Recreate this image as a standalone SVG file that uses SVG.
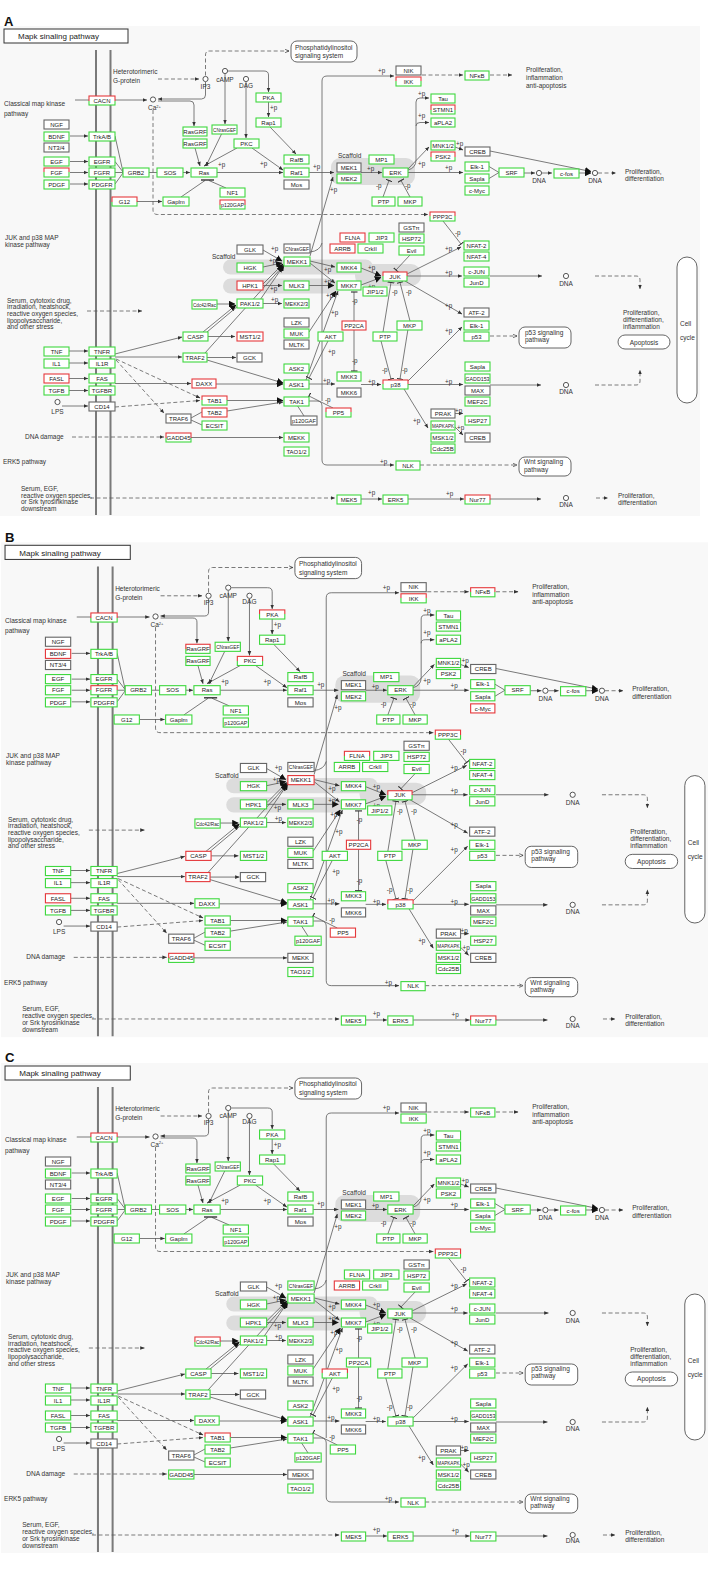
<svg xmlns="http://www.w3.org/2000/svg" width="721" height="1571" viewBox="0 0 721 1571">
<style>
.b{fill:#fff;stroke-width:1.1}
.n{font-family:"Liberation Sans",Arial,sans-serif;font-size:6px;fill:#1a1a1a;stroke:none;text-anchor:middle}
.t{font-family:"Liberation Sans",Arial,sans-serif;font-size:6.5px;fill:#333;stroke:none}
.m{text-anchor:middle}
.p{font-family:"Liberation Sans",Arial,sans-serif;font-size:6.3px;fill:#333;stroke:none}
.g{stroke:#3fd83f}
.r{stroke:#e5393c}
.rg{stroke:url(#rg)}
.k{stroke:#666}
.d{stroke-dasharray:4 2.5}
.ci{fill:#fff;stroke:#444;stroke-width:0.9}
.rb{fill:#fff;stroke:#555;stroke-width:0.9}
.sc{fill:#dcdcdc;stroke:none}
.L{font-family:"Liberation Sans",Arial,sans-serif;font-size:13px;font-weight:bold;fill:#111}
</style>
<defs>
<linearGradient id="rg" x1="0" y1="0" x2="0" y2="1"><stop offset="0.5" stop-color="#e5393c"/><stop offset="0.5" stop-color="#3fd83f"/></linearGradient>
<marker id="ah" viewBox="0 0 8 8" refX="7.5" refY="4" markerWidth="4.5" markerHeight="4.5" markerUnits="userSpaceOnUse" orient="auto"><path d="M0,0.8L8,4L0,7.2z" fill="#333"/></marker>
<marker id="bh" viewBox="0 0 8 8" refX="7.5" refY="4" markerWidth="6.5" markerHeight="6.5" markerUnits="userSpaceOnUse" orient="auto"><path d="M0,0L8,4L0,8z" fill="#111"/></marker>
<marker id="oh" viewBox="0 0 8 8" refX="7.5" refY="4" markerWidth="4.5" markerHeight="4.5" markerUnits="userSpaceOnUse" orient="auto"><path d="M0.5,1L7.5,4L0.5,7" fill="none" stroke="#333" stroke-width="1.2"/></marker>
<marker id="tb" viewBox="0 0 2 10" refX="1" refY="5" markerWidth="1.6" markerHeight="7" markerUnits="userSpaceOnUse" orient="auto"><path d="M1,0V10" stroke="#333" stroke-width="1.6"/></marker>

<g id="base">
<rect x="0" y="26" width="700" height="490" fill="#f8f8f8"/>
<rect x="4" y="29" width="124" height="14" fill="#fff" stroke="#333" stroke-width="1"/>
<text x="18" y="39.2" style="font-family:'Liberation Sans',Arial,sans-serif;font-size:8px;fill:#222">Mapk sinaling pathway</text>
<path d="M96,50V515M110.5,50V515" stroke="#7a7a7a" stroke-width="2" fill="none"/>
<rect class="sc" x="331" y="158" width="84" height="27" rx="9"/>
<rect class="sc" x="223" y="259.5" width="150" height="15" rx="7.5"/>
<rect class="sc" x="355" y="264" width="66" height="22" rx="10"/>
<rect class="sc" x="223" y="278.5" width="115" height="15" rx="7.5"/>
<rect class="rb" x="291" y="41" width="66" height="21" rx="6"/>
<rect class="rb" x="519" y="327" width="52" height="21" rx="6"/>
<rect class="rb" x="519" y="457" width="52" height="19" rx="6"/>
<rect class="rb" x="618" y="335" width="52" height="14" rx="7"/>
<rect class="rb" x="677" y="257" width="20" height="146" rx="10"/>
<g id="connectors" fill="none" stroke="#5a5a5a" stroke-width="0.8">
<path class="d" d="M158,79H199" marker-end="url(#ah)"/>
<path class="d" d="M205.5,75.5V55Q205.5,51 209.5,51H289" marker-end="url(#oh)"/>
<path class="d" d="M153,110V210Q153,214.5 157.5,214.5H428" marker-end="url(#ah)"/>
<path class="d" d="M422,75H463" marker-end="url(#ah)"/>
<path class="d" d="M490,75H512" marker-end="url(#ah)"/>
<path class="d" d="M598,173H616" marker-end="url(#ah)"/>
<path class="d" d="M87,311H142" marker-end="url(#ah)"/>
<path class="d" d="M490,336H517" marker-end="url(#oh)"/>
<path class="d" d="M595,276H636Q640,276 640,280V289" marker-end="url(#ah)"/>
<path class="d" d="M595,385H636Q640,385 640,381V370" marker-end="url(#ah)"/>
<path class="d" d="M116,360L164,413" marker-end="url(#ah)"/>
<path class="d" d="M116,359L200,398" marker-end="url(#ah)"/>
<path class="d" d="M115,407L200,400.5" marker-end="url(#ah)"/>
<path class="d" d="M72,437H164" marker-end="url(#ah)"/>
<path class="d" d="M420,465H517" marker-end="url(#oh)"/>
<path class="d" d="M90,498H335" marker-end="url(#ah)"/>
<path class="d" d="M596,498H608" marker-end="url(#ah)"/>
<path d="M75,100H147" marker-end="url(#ah)"/>
<path d="M205.5,82V95Q205.5,99 201.5,99H158" marker-end="url(#ah)"/>
<path d="M158,101H190Q194,101 194,105V126" marker-end="url(#ah)"/>
<path d="M225,74V124" marker-end="url(#ah)"/>
<path d="M228,71H264Q268.5,71 268.5,75V92" marker-end="url(#ah)"/>
<path d="M246,82V138" marker-end="url(#ah)"/>
<path d="M268.5,101V117" marker-end="url(#ah)"/>
<path d="M270,127L296,154" marker-end="url(#ah)"/>
<path d="M237,148L204,166" marker-end="url(#ah)"/>
<path d="M252,148L283,170" marker-end="url(#ah)"/>
<path d="M195,148L200,166" marker-end="url(#ah)"/>
<path d="M222,133L206,166" marker-end="url(#ah)"/>
<path d="M217,172.5H283" marker-end="url(#ah)"/>
<path d="M309,172.5H334" marker-end="url(#ah)"/>
<path d="M70,136H88" marker-end="url(#ah)"/>
<path d="M70,161.5H88" marker-end="url(#ah)"/>
<path d="M70,172.5H88" marker-end="url(#ah)"/>
<path d="M70,184H88" marker-end="url(#ah)"/>
<path d="M115,136L123,172M115,161.5L123,172M115,172.5H123M115,184L123,173M149,172.5H157"/>
<path d="M183,172.5H190" marker-end="url(#ah)"/>
<path d="M137,201.5H162" marker-end="url(#ah)"/>
<path d="M181,197L205,180.5M226,188L209,180.5"/>
<path d="M201,180H214" stroke="#333" stroke-width="1.4"/>
<path d="M443,221L461,244" marker-end="url(#tb)"/>
<path d="M407,274L461,247" marker-end="url(#ah)"/>
<path d="M407,276H462" marker-end="url(#ah)"/>
<path d="M490,276H542" marker-end="url(#ah)"/>
<path d="M405,281L462,314" marker-end="url(#ah)"/>
<path d="M408,381L462,327" marker-end="url(#ah)"/>
<path d="M408,384.5H463" marker-end="url(#ah)"/>
<path d="M490,385H541" marker-end="url(#ah)"/>
<path d="M404,389L428,428" marker-end="url(#ah)"/>
<path d="M455,413.5H463" marker-end="url(#ah)"/>
<path d="M455,427L463,435" marker-end="url(#ah)"/>
<path d="M408,170Q416,168 416,160V102Q416,98 420,98H429" marker-end="url(#ah)"/>
<path d="M416,126Q416,122.5 420,122.5H429" marker-end="url(#ah)"/>
<path d="M408,169L429,147" marker-end="url(#ah)"/>
<path d="M408,172.5H463" marker-end="url(#ah)"/>
<path d="M455,147L463,150" marker-end="url(#ah)"/>
<path d="M490,151L591,171.5" marker-end="url(#bh)"/>
<path d="M489,166.5L499,172.5L489,178.5"/>
<path d="M524,173H535" marker-end="url(#ah)"/>
<path d="M542,173H552" marker-end="url(#ah)"/>
<path d="M579,173H591" marker-end="url(#bh)"/>
<path d="M361,172.5H382" marker-end="url(#ah)"/>
<path d="M383,197L389,180.5" marker-end="url(#tb)"/>
<path d="M410,197L401,180.5" marker-end="url(#tb)"/>
<path d="M322,401V81Q322,76 327,76H394" marker-end="url(#ah)"/>
<path d="M309,401H317Q322,401 322,406V460Q322,465 327,465H394" marker-end="url(#ah)"/>
<path d="M310,252Q320,251 322,243"/>
<path d="M310,256L333,177" marker-end="url(#ah)"/>
<path d="M263,250L282,261" marker-end="url(#bh)"/>
<path d="M263,267L282,263" marker-end="url(#bh)"/>
<path d="M263,284L283,264" marker-end="url(#bh)"/>
<path d="M260,300L284,265" marker-end="url(#bh)"/>
<path d="M205,353L283,266" marker-end="url(#bh)"/>
<path d="M217,304H235" marker-end="url(#bh)"/>
<path d="M203,332L236,305" marker-end="url(#bh)"/>
<path d="M207,332L238,306"/>
<path d="M208,336.5H235" marker-end="url(#ah)"/>
<path d="M263,303.5H282" marker-end="url(#ah)"/>
<path d="M263,285.5H282" marker-end="url(#ah)"/>
<path d="M310,261L335,267" marker-end="url(#ah)"/>
<path d="M310,263L335,283" marker-end="url(#ah)"/>
<path d="M309,285.5H334" marker-end="url(#bh)"/>
<path d="M309,332L336,291" marker-end="url(#bh)"/>
<path d="M306,380L338,291" marker-end="url(#ah)"/>
<path d="M361,268L381,276" marker-end="url(#bh)"/>
<path d="M361,285L381,277.5" marker-end="url(#bh)"/>
<path d="M410,255L396,270" marker-end="url(#tb)"/>
<path d="M354,321V292" marker-end="url(#tb)"/>
<path d="M354,329V371" marker-end="url(#tb)"/>
<path d="M383,332L391,282.5" marker-end="url(#tb)"/>
<path d="M410,321L400,282.5" marker-end="url(#tb)"/>
<path d="M381,341L391,379" marker-end="url(#tb)"/>
<path d="M408,329L400,379" marker-end="url(#tb)"/>
<path d="M328,341L309,378" marker-end="url(#tb)"/>
<path d="M309,384H335" marker-end="url(#ah)"/>
<path d="M361,384.5H381" marker-end="url(#ah)"/>
<path d="M333,408L309,396" marker-end="url(#tb)"/>
<path d="M297,405L304,416"/>
<path d="M69,351H88" marker-end="url(#ah)"/>
<path d="M69,363H88" marker-end="url(#ah)"/>
<path d="M69,378.5H88" marker-end="url(#ah)"/>
<path d="M69,390.5H88" marker-end="url(#ah)"/>
<path d="M62,406H88" marker-end="url(#ah)"/>
<path d="M115,354L182,337" marker-end="url(#ah)"/>
<path d="M115,357H182" marker-end="url(#ah)"/>
<path d="M115,383.5H191" marker-end="url(#ah)"/>
<path d="M207,357.5H236" marker-end="url(#ah)"/>
<path d="M207,360L283,383" marker-end="url(#bh)"/>
<path d="M216,384H283" marker-end="url(#bh)"/>
<path d="M227,400.5H283" marker-end="url(#bh)"/>
<path d="M227,411L283,402" marker-end="url(#ah)"/>
<path d="M191,418L202,412M191,420L202,425"/>
<path d="M191,437.5H283" marker-end="url(#ah)"/>
<path d="M361,499H382" marker-end="url(#ah)"/>
<path d="M408,499H464" marker-end="url(#ah)"/>
<path d="M490,499H541" marker-end="url(#ah)"/>
</g>
<g id="circles">
<circle class="ci" cx="205.5" cy="79" r="2.6"/><circle class="ci" cx="225" cy="71" r="2.6"/><circle class="ci" cx="246" cy="79" r="2.6"/><circle class="ci" cx="153" cy="99.5" r="2.6"/><circle class="ci" cx="57.5" cy="402" r="2.6"/><circle class="ci" cx="539" cy="173" r="2.6"/><circle class="ci" cx="595" cy="173" r="2.6"/><circle class="ci" cx="566" cy="276" r="2.6"/><circle class="ci" cx="566" cy="385" r="2.6"/><circle class="ci" cx="566" cy="498" r="2.6"/>
</g>
<g id="labels">
<text class="t" x="113" y="74">Heterotorimeric</text><text class="t" x="113" y="83">G-protein</text>
<text class="t" x="4" y="105.5">Classical map kinase</text><text class="t" x="4" y="116">pathway</text>
<text class="t m" x="205.5" y="88.5">IP3</text><text class="t m" x="225" y="81.5">cAMP</text><text class="t m" x="246" y="87.5">DAG</text>
<text class="t" x="148" y="110">Ca<tspan font-size="4" dy="-2.5">2+</tspan></text>
<text class="t" x="295" y="49.5">Phosphatidylinositol</text><text class="t" x="295" y="58">signaling system</text>
<text class="t" x="526" y="72">Proliferation,</text><text class="t" x="526" y="80">inflammation</text><text class="t" x="526" y="87.5">anti-apoptosis</text>
<text class="t" x="338" y="158">Scaffold</text>
<text class="t m" x="539" y="183">DNA</text><text class="t m" x="595" y="183">DNA</text>
<text class="t" x="625" y="173.5">Proliferation,</text><text class="t" x="625" y="181">differentiation</text>
<text class="t" x="5" y="240">JUK and p38 MAP</text><text class="t" x="5" y="247">kinase pathway</text>
<text class="t" x="212" y="259">Scaffold</text>
<text class="t" x="7" y="302.5">Serum, cytotoxic drug,</text><text class="t" x="7" y="309">irradiation, heatshock,</text><text class="t" x="7" y="315.5">reactive oxygen species,</text><text class="t" x="7" y="322.5">lipopolysaccharide,</text><text class="t" x="7" y="329">and other stress</text>
<text class="t m" x="566" y="286">DNA</text>
<text class="t" x="623" y="315">Proliferation,</text><text class="t" x="623" y="322">differentiation,</text><text class="t" x="623" y="329">inflammation</text>
<text class="t m" x="644" y="344.5">Apoptosis</text>
<text class="t" x="680" y="326">Cell</text><text class="t" x="680" y="340">cycle</text>
<text class="t" x="525" y="334.5">p53 signaling</text><text class="t" x="525" y="341.5">pathway</text>
<text class="t m" x="57.5" y="414">LPS</text>
<text class="t" x="25" y="439">DNA damage</text>
<text class="t m" x="566" y="394">DNA</text>
<text class="t" x="3" y="464">ERK5 pathway</text>
<text class="t" x="524" y="464">Wnt signaling</text><text class="t" x="524" y="471.5">pathway</text>
<text class="t" x="21" y="490.5">Serum, EGF,</text><text class="t" x="21" y="497.5">reactive oxygen species,</text><text class="t" x="21" y="504">or Srk tyrosinkinase</text><text class="t" x="21" y="511">downstream</text>
<text class="t m" x="566" y="506.5">DNA</text>
<text class="t" x="618" y="498">Proliferation,</text><text class="t" x="618" y="505">differentiation</text>
</g>
<g id="plabels">
<text class="p" x="270" y="110">+p</text><text class="p" x="218" y="166.5">+p</text><text class="p" x="260" y="166">+p</text><text class="p" x="313" y="169">+p</text><text class="p" x="330" y="192">+p</text><text class="p" x="367" y="171">+p</text>
<text class="p" x="418" y="96">+p</text><text class="p" x="418" y="118">+p</text><text class="p" x="418" y="165.5">+p</text><text class="p" x="445" y="170">+p</text><text class="p" x="456" y="146">+p</text><text class="p" x="378" y="73">+p</text>
<text class="p" x="376" y="188">-p</text><text class="p" x="405" y="188">-p</text><text class="p" x="455" y="234.5">-p</text>
<text class="p" x="445" y="251">+p</text><text class="p" x="445" y="274.5">+p</text><text class="p" x="445" y="308">+p</text><text class="p" x="445" y="333">+p</text>
<text class="p" x="271" y="251">+p</text><text class="p" x="269" y="263">+p</text><text class="p" x="270" y="291">+p</text><text class="p" x="271" y="302">+p</text>
<text class="p" x="324" y="272">+p</text><text class="p" x="324" y="284">+p</text><text class="p" x="326" y="298">+p</text><text class="p" x="331" y="315">+p</text>
<text class="p" x="368" y="270">+p</text><text class="p" x="368" y="289">+p</text><text class="p" x="352" y="303">-p</text><text class="p" x="392" y="294">-p</text><text class="p" x="406" y="294">-p</text>
<text class="p" x="328" y="354">+p</text><text class="p" x="323" y="383">+p</text><text class="p" x="352" y="363">-p</text><text class="p" x="325" y="402">-p</text><text class="p" x="368" y="384">+p</text>
<text class="p" x="382" y="372">-p</text><text class="p" x="402" y="372">-p</text><text class="p" x="445" y="384">+p</text><text class="p" x="413" y="423">+p</text><text class="p" x="455" y="413">+p</text><text class="p" x="457" y="430">+p</text>
<text class="p" x="380" y="464">+p</text><text class="p" x="368" y="495">+p</text><text class="p" x="446" y="496">+p</text>
</g>
</g>

<g id="n_ngf"><rect class="b" x="44" y="120" width="25" height="9"/><text class="n" x="56.5" y="126.7">NGF</text></g>
<g id="n_bdnf"><rect class="b" x="44" y="132" width="25" height="9"/><text class="n" x="56.5" y="138.7">BDNF</text></g>
<g id="n_nt34"><rect class="b" x="44" y="143" width="25" height="9"/><text class="n" x="56.5" y="149.7">NT3/4</text></g>
<g id="n_egf"><rect class="b" x="44" y="157" width="25" height="9"/><text class="n" x="56.5" y="163.7">EGF</text></g>
<g id="n_fgf"><rect class="b" x="44" y="168" width="25" height="9"/><text class="n" x="56.5" y="174.7">FGF</text></g>
<g id="n_pdgf"><rect class="b" x="44" y="180" width="25" height="9"/><text class="n" x="56.5" y="186.7">PDGF</text></g>
<g id="n_trkab"><rect class="b" x="89" y="132" width="26" height="9"/><text class="n" x="102" y="138.7">TrkA/B</text></g>
<g id="n_egfr"><rect class="b" x="89" y="157" width="26" height="9"/><text class="n" x="102" y="163.7">EGFR</text></g>
<g id="n_fgfr"><rect class="b" x="89" y="168" width="26" height="9"/><text class="n" x="102" y="174.7">FGFR</text></g>
<g id="n_pdgfr"><rect class="b" x="89" y="180" width="26" height="9"/><text class="n" x="102" y="186.7">PDGFR</text></g>
<g id="n_cacn"><rect class="b" x="89" y="96" width="26" height="9"/><text class="n" x="102" y="102.7">CACN</text></g>
<g id="n_grb2"><rect class="b" x="123" y="168" width="26" height="9"/><text class="n" x="136" y="174.7">GRB2</text></g>
<g id="n_sos"><rect class="b" x="157" y="168" width="26" height="9"/><text class="n" x="170" y="174.7">SOS</text></g>
<g id="n_ras"><rect class="b" x="191" y="168" width="26" height="9"/><text class="n" x="204" y="174.7">Ras</text></g>
<g id="n_g12"><rect class="b" x="112" y="197" width="25" height="9"/><text class="n" x="124.5" y="203.7">G12</text></g>
<g id="n_gaplm"><rect class="b" x="163" y="197" width="26" height="9"/><text class="n" x="176" y="203.7">Gaplm</text></g>
<g id="n_nf1"><rect class="b" x="220" y="188" width="25" height="9"/><text class="n" x="232.5" y="194.7">NF1</text></g>
<g id="n_p120gap"><rect class="b" x="220" y="200" width="25" height="9"/><text class="n" x="232.5" y="206.7" textLength="23" lengthAdjust="spacingAndGlyphs">p120GAP</text></g>
<g id="n_rasgrf1"><rect class="b" x="183" y="127" width="24" height="9"/><text class="n" x="195" y="133.7">RasGRF</text></g>
<g id="n_rasgrf2"><rect class="b" x="183" y="139" width="24" height="9"/><text class="n" x="195" y="145.7">RasGRF</text></g>
<g id="n_cnras1"><rect class="b" x="212" y="125" width="25" height="9"/><text class="n" x="224.5" y="131.7" textLength="23" lengthAdjust="spacingAndGlyphs">CNrasGEF</text></g>
<g id="n_pkc"><rect class="b" x="234" y="139" width="25" height="9"/><text class="n" x="246.5" y="145.7">PKC</text></g>
<g id="n_pka"><rect class="b" x="256" y="93" width="25" height="9"/><text class="n" x="268.5" y="99.7">PKA</text></g>
<g id="n_rap1"><rect class="b" x="256" y="118" width="25" height="9"/><text class="n" x="268.5" y="124.7">Rap1</text></g>
<g id="n_rafb"><rect class="b" x="284" y="155" width="25" height="9"/><text class="n" x="296.5" y="161.7">RafB</text></g>
<g id="n_raf1"><rect class="b" x="284" y="168" width="25" height="9"/><text class="n" x="296.5" y="174.7">Raf1</text></g>
<g id="n_mos"><rect class="b" x="284" y="180" width="25" height="9"/><text class="n" x="296.5" y="186.7">Mos</text></g>
<g id="n_mek1"><rect class="b" x="337" y="163" width="24" height="9"/><text class="n" x="349" y="169.7">MEK1</text></g>
<g id="n_mek2"><rect class="b" x="337" y="174" width="24" height="9"/><text class="n" x="349" y="180.7">MEK2</text></g>
<g id="n_mp1"><rect class="b" x="369" y="155" width="25" height="9"/><text class="n" x="381.5" y="161.7">MP1</text></g>
<g id="n_erk"><rect class="b" x="383" y="168" width="25" height="9"/><text class="n" x="395.5" y="174.7">ERK</text></g>
<g id="n_ptp1"><rect class="b" x="372" y="197" width="23" height="9"/><text class="n" x="383.5" y="203.7">PTP</text></g>
<g id="n_mkp1"><rect class="b" x="398" y="197" width="24" height="9"/><text class="n" x="410" y="203.7">MKP</text></g>
<g id="n_nik"><rect class="b" x="396" y="66" width="25" height="9"/><text class="n" x="408.5" y="72.7">NIK</text></g>
<g id="n_ikk"><rect class="b" x="396" y="77" width="25" height="9"/><text class="n" x="408.5" y="83.7">IKK</text></g>
<g id="n_nfkb"><rect class="b" x="465" y="71" width="24" height="9"/><text class="n" x="477" y="77.7">NFκB</text></g>
<g id="n_tau"><rect class="b" x="431" y="94" width="24" height="9"/><text class="n" x="443" y="100.7">Tau</text></g>
<g id="n_stmn1"><rect class="b" x="431" y="105" width="24" height="9"/><text class="n" x="443" y="111.7">STMN1</text></g>
<g id="n_apla2"><rect class="b" x="431" y="118" width="24" height="9"/><text class="n" x="443" y="124.7">aPLA2</text></g>
<g id="n_mnk"><rect class="b" x="431" y="141" width="24" height="9"/><text class="n" x="443" y="147.7">MNK1/2</text></g>
<g id="n_psk2"><rect class="b" x="431" y="152" width="24" height="9"/><text class="n" x="443" y="158.7">PSK2</text></g>
<g id="n_creb1"><rect class="b" x="465" y="147" width="25" height="9"/><text class="n" x="477.5" y="153.7">CREB</text></g>
<g id="n_elk1"><rect class="b" x="465" y="162" width="24" height="9"/><text class="n" x="477" y="168.7">Elk-1</text></g>
<g id="n_sapla1"><rect class="b" x="465" y="174" width="24" height="9"/><text class="n" x="477" y="180.7">Sapla</text></g>
<g id="n_cmyc"><rect class="b" x="465" y="186" width="24" height="9"/><text class="n" x="477" y="192.7">c-Myc</text></g>
<g id="n_srf"><rect class="b" x="499" y="168" width="25" height="9"/><text class="n" x="511.5" y="174.7">SRF</text></g>
<g id="n_cfos"><rect class="b" x="554" y="169" width="25" height="9"/><text class="n" x="566.5" y="175.7">c-fos</text></g>
<g id="n_ppp3c"><rect class="b" x="430" y="212" width="25" height="9"/><text class="n" x="442.5" y="218.7">PPP3C</text></g>
<g id="n_nfat2"><rect class="b" x="464" y="241" width="25" height="9"/><text class="n" x="476.5" y="247.7">NFAT-2</text></g>
<g id="n_nfat4"><rect class="b" x="464" y="252" width="25" height="9"/><text class="n" x="476.5" y="258.7">NFAT-4</text></g>
<g id="n_cjun"><rect class="b" x="464" y="267" width="25" height="9"/><text class="n" x="476.5" y="273.7">c-JUN</text></g>
<g id="n_jund"><rect class="b" x="464" y="278" width="25" height="9"/><text class="n" x="476.5" y="284.7">JunD</text></g>
<g id="n_gst"><rect class="b" x="399" y="223" width="25" height="9"/><text class="n" x="411.5" y="229.7">GSTπ</text></g>
<g id="n_hsp72"><rect class="b" x="399" y="234" width="25" height="9"/><text class="n" x="411.5" y="240.7">HSP72</text></g>
<g id="n_evil"><rect class="b" x="399" y="246" width="25" height="9"/><text class="n" x="411.5" y="252.7">Evil</text></g>
<g id="n_flna"><rect class="b" x="340" y="233" width="25" height="9"/><text class="n" x="352.5" y="239.7">FLNA</text></g>
<g id="n_jip3"><rect class="b" x="369" y="233" width="25" height="9"/><text class="n" x="381.5" y="239.7">JIP3</text></g>
<g id="n_arrb"><rect class="b" x="330" y="244" width="25" height="9"/><text class="n" x="342.5" y="250.7">ARRB</text></g>
<g id="n_crk"><rect class="b" x="358" y="244" width="25" height="9"/><text class="n" x="370.5" y="250.7">CrkII</text></g>
<g id="n_glk"><rect class="b" x="237" y="245" width="26" height="9"/><text class="n" x="250" y="251.7">GLK</text></g>
<g id="n_cnras2"><rect class="b" x="284" y="244" width="26" height="9"/><text class="n" x="297" y="250.7" textLength="24" lengthAdjust="spacingAndGlyphs">CNrasGEF</text></g>
<g id="n_hgk"><rect class="b" x="237" y="263" width="26" height="9"/><text class="n" x="250" y="269.7">HGK</text></g>
<g id="n_mekk1"><rect class="b" x="284" y="257" width="26" height="9"/><text class="n" x="297" y="263.7">MEKK1</text></g>
<g id="n_hpk1"><rect class="b" x="237" y="281" width="26" height="9"/><text class="n" x="250" y="287.7">HPK1</text></g>
<g id="n_mlk3"><rect class="b" x="284" y="281" width="25" height="9"/><text class="n" x="296.5" y="287.7">MLK3</text></g>
<g id="n_cdc42"><rect class="b" x="192" y="300" width="25" height="9"/><text class="n" x="204.5" y="306.7" textLength="23" lengthAdjust="spacingAndGlyphs">Cdc42/Rac</text></g>
<g id="n_pak"><rect class="b" x="237" y="299" width="26" height="9"/><text class="n" x="250" y="305.7">PAK1/2</text></g>
<g id="n_mekk23"><rect class="b" x="284" y="299" width="25" height="9"/><text class="n" x="296.5" y="305.7" textLength="23" lengthAdjust="spacingAndGlyphs">MEKK2/3</text></g>
<g id="n_casp"><rect class="b" x="183" y="332" width="25" height="9"/><text class="n" x="195.5" y="338.7">CASP</text></g>
<g id="n_mst"><rect class="b" x="237" y="332" width="26" height="9"/><text class="n" x="250" y="338.7">MST1/2</text></g>
<g id="n_gck"><rect class="b" x="237" y="353" width="25" height="9"/><text class="n" x="249.5" y="359.7">GCK</text></g>
<g id="n_lzk"><rect class="b" x="284" y="318" width="25" height="9"/><text class="n" x="296.5" y="324.7">LZK</text></g>
<g id="n_muk"><rect class="b" x="284" y="329" width="25" height="9"/><text class="n" x="296.5" y="335.7">MUK</text></g>
<g id="n_mltk"><rect class="b" x="284" y="340" width="25" height="9"/><text class="n" x="296.5" y="346.7">MLTK</text></g>
<g id="n_mkk4"><rect class="b" x="337" y="263" width="24" height="9"/><text class="n" x="349" y="269.7">MKK4</text></g>
<g id="n_mkk7"><rect class="b" x="337" y="281" width="24" height="9"/><text class="n" x="349" y="287.7">MKK7</text></g>
<g id="n_jip12"><rect class="b" x="363" y="287" width="24" height="9"/><text class="n" x="375" y="293.7">JIP1/2</text></g>
<g id="n_juk"><rect class="b" x="383" y="272" width="24" height="9"/><text class="n" x="395" y="278.7">JUK</text></g>
<g id="n_pp2ca"><rect class="b" x="342" y="321" width="24" height="9"/><text class="n" x="354" y="327.7">PP2CA</text></g>
<g id="n_akt"><rect class="b" x="318" y="332" width="25" height="9"/><text class="n" x="330.5" y="338.7">AKT</text></g>
<g id="n_ptp2"><rect class="b" x="373" y="332" width="24" height="9"/><text class="n" x="385" y="338.7">PTP</text></g>
<g id="n_mkp2"><rect class="b" x="397" y="321" width="25" height="9"/><text class="n" x="409.5" y="327.7">MKP</text></g>
<g id="n_atf2"><rect class="b" x="464" y="308" width="25" height="9"/><text class="n" x="476.5" y="314.7">ATF-2</text></g>
<g id="n_elk1b"><rect class="b" x="464" y="321" width="25" height="9"/><text class="n" x="476.5" y="327.7">Elk-1</text></g>
<g id="n_p53"><rect class="b" x="464" y="332" width="25" height="9"/><text class="n" x="476.5" y="338.7">p53</text></g>
<g id="n_tnf"><rect class="b" x="44" y="347" width="25" height="9"/><text class="n" x="56.5" y="353.7">TNF</text></g>
<g id="n_tnfr"><rect class="b" x="89" y="347" width="26" height="9"/><text class="n" x="102" y="353.7">TNFR</text></g>
<g id="n_il1"><rect class="b" x="44" y="359" width="25" height="9"/><text class="n" x="56.5" y="365.7">IL1</text></g>
<g id="n_il1r"><rect class="b" x="89" y="359" width="26" height="9"/><text class="n" x="102" y="365.7">IL1R</text></g>
<g id="n_fasl"><rect class="b" x="44" y="374" width="25" height="9"/><text class="n" x="56.5" y="380.7">FASL</text></g>
<g id="n_fas"><rect class="b" x="89" y="374" width="26" height="9"/><text class="n" x="102" y="380.7">FAS</text></g>
<g id="n_tgfb"><rect class="b" x="44" y="386" width="25" height="9"/><text class="n" x="56.5" y="392.7">TGFB</text></g>
<g id="n_tgfbr"><rect class="b" x="89" y="386" width="26" height="9"/><text class="n" x="102" y="392.7">TGFBR</text></g>
<g id="n_cd14"><rect class="b" x="89" y="402" width="26" height="9"/><text class="n" x="102" y="408.7">CD14</text></g>
<g id="n_traf2"><rect class="b" x="183" y="353" width="24" height="9"/><text class="n" x="195" y="359.7">TRAF2</text></g>
<g id="n_daxx"><rect class="b" x="192" y="379" width="24" height="9"/><text class="n" x="204" y="385.7">DAXX</text></g>
<g id="n_tab1"><rect class="b" x="202" y="396" width="25" height="9"/><text class="n" x="214.5" y="402.7">TAB1</text></g>
<g id="n_tab2"><rect class="b" x="202" y="408" width="25" height="9"/><text class="n" x="214.5" y="414.7">TAB2</text></g>
<g id="n_ecsit"><rect class="b" x="202" y="421" width="25" height="9"/><text class="n" x="214.5" y="427.7">ECSIT</text></g>
<g id="n_traf6"><rect class="b" x="166" y="414" width="25" height="9"/><text class="n" x="178.5" y="420.7">TRAF6</text></g>
<g id="n_gadd45"><rect class="b" x="166" y="433" width="25" height="9"/><text class="n" x="178.5" y="439.7">GADD45</text></g>
<g id="n_ask2"><rect class="b" x="284" y="364" width="25" height="9"/><text class="n" x="296.5" y="370.7">ASK2</text></g>
<g id="n_ask1"><rect class="b" x="284" y="380" width="25" height="9"/><text class="n" x="296.5" y="386.7">ASK1</text></g>
<g id="n_tak1"><rect class="b" x="284" y="397" width="25" height="9"/><text class="n" x="296.5" y="403.7">TAK1</text></g>
<g id="n_p120gaf"><rect class="b" x="291" y="416" width="26" height="9"/><text class="n" x="304" y="422.7" textLength="24" lengthAdjust="spacingAndGlyphs">p120GAF</text></g>
<g id="n_mkk3"><rect class="b" x="337" y="372" width="24" height="9"/><text class="n" x="349" y="378.7">MKK3</text></g>
<g id="n_mkk6"><rect class="b" x="337" y="388" width="24" height="9"/><text class="n" x="349" y="394.7">MKK6</text></g>
<g id="n_p38"><rect class="b" x="383" y="380" width="25" height="9"/><text class="n" x="395.5" y="386.7">p38</text></g>
<g id="n_pp5"><rect class="b" x="326" y="408" width="25" height="9"/><text class="n" x="338.5" y="414.7">PP5</text></g>
<g id="n_sapla2"><rect class="b" x="465" y="362" width="25" height="9"/><text class="n" x="477.5" y="368.7">Sapla</text></g>
<g id="n_gadd153"><rect class="b" x="465" y="374" width="25" height="9"/><text class="n" x="477.5" y="380.7" textLength="24" lengthAdjust="spacingAndGlyphs">GADD153</text></g>
<g id="n_max"><rect class="b" x="465" y="386" width="25" height="9"/><text class="n" x="477.5" y="392.7">MAX</text></g>
<g id="n_mef2c"><rect class="b" x="465" y="397" width="25" height="9"/><text class="n" x="477.5" y="403.7">MEF2C</text></g>
<g id="n_prak"><rect class="b" x="431" y="409" width="24" height="9"/><text class="n" x="443" y="415.7">PRAK</text></g>
<g id="n_mapkap"><rect class="b" x="431" y="421" width="24" height="9"/><text class="n" x="443" y="427.7" textLength="22" lengthAdjust="spacingAndGlyphs">MAPKAPK</text></g>
<g id="n_msk"><rect class="b" x="431" y="433" width="24" height="9"/><text class="n" x="443" y="439.7">MSK1/2</text></g>
<g id="n_cdc25b"><rect class="b" x="431" y="444" width="24" height="9"/><text class="n" x="443" y="450.7">Cdc25B</text></g>
<g id="n_hsp27"><rect class="b" x="465" y="416" width="25" height="9"/><text class="n" x="477.5" y="422.7">HSP27</text></g>
<g id="n_creb2"><rect class="b" x="465" y="433" width="25" height="9"/><text class="n" x="477.5" y="439.7">CREB</text></g>
<g id="n_nlk"><rect class="b" x="396" y="461" width="24" height="9"/><text class="n" x="408" y="467.7">NLK</text></g>
<g id="n_mekk"><rect class="b" x="284" y="433" width="25" height="9"/><text class="n" x="296.5" y="439.7">MEKK</text></g>
<g id="n_tao"><rect class="b" x="284" y="447" width="25" height="9"/><text class="n" x="296.5" y="453.7">TAO1/2</text></g>
<g id="n_mek5"><rect class="b" x="337" y="495" width="24" height="9"/><text class="n" x="349" y="501.7">MEK5</text></g>
<g id="n_erk5"><rect class="b" x="383" y="495" width="25" height="9"/><text class="n" x="395.5" y="501.7">ERK5</text></g>
<g id="n_nur77"><rect class="b" x="465" y="495" width="25" height="9"/><text class="n" x="477.5" y="501.7">Nur77</text></g>
</defs>

<rect width="721" height="1571" fill="#fff"/>

<g id="panelA">
<text class="L" x="4" y="25.5">A</text>
<use href="#base"/>
<g id="A-nodes" class="g">
<g id="A-ngf" class="k"><use href="#n_ngf"/></g><g id="A-bdnf"><use href="#n_bdnf"/></g><g id="A-nt34" class="k"><use href="#n_nt34"/></g><g id="A-egf"><use href="#n_egf"/></g><g id="A-fgf" class="rg"><use href="#n_fgf"/></g><g id="A-pdgf"><use href="#n_pdgf"/></g>
<g id="A-trkab"><use href="#n_trkab"/></g><g id="A-egfr"><use href="#n_egfr"/></g><g id="A-fgfr"><use href="#n_fgfr"/></g><g id="A-pdgfr"><use href="#n_pdgfr"/></g><g id="A-cacn" class="rg"><use href="#n_cacn"/></g>
<g id="A-grb2"><use href="#n_grb2"/></g><g id="A-sos"><use href="#n_sos"/></g><g id="A-ras"><use href="#n_ras"/></g><g id="A-g12" class="rg"><use href="#n_g12"/></g><g id="A-gaplm"><use href="#n_gaplm"/></g><g id="A-nf1"><use href="#n_nf1"/></g><g id="A-p120gap" class="rg"><use href="#n_p120gap"/></g>
<g id="A-rasgrf1"><use href="#n_rasgrf1"/></g><g id="A-rasgrf2"><use href="#n_rasgrf2"/></g><g id="A-cnras1"><use href="#n_cnras1"/></g><g id="A-pkc"><use href="#n_pkc"/></g><g id="A-pka"><use href="#n_pka"/></g><g id="A-rap1"><use href="#n_rap1"/></g>
<g id="A-rafb"><use href="#n_rafb"/></g><g id="A-raf1"><use href="#n_raf1"/></g><g id="A-mos" class="k"><use href="#n_mos"/></g><g id="A-mek1" class="k"><use href="#n_mek1"/></g><g id="A-mek2"><use href="#n_mek2"/></g><g id="A-mp1"><use href="#n_mp1"/></g><g id="A-erk"><use href="#n_erk"/></g><g id="A-ptp1"><use href="#n_ptp1"/></g><g id="A-mkp1"><use href="#n_mkp1"/></g>
<g id="A-nik" class="k"><use href="#n_nik"/></g><g id="A-ikk" class="rg"><use href="#n_ikk"/></g><g id="A-nfkb"><use href="#n_nfkb"/></g><g id="A-tau"><use href="#n_tau"/></g><g id="A-stmn1" class="rg"><use href="#n_stmn1"/></g><g id="A-apla2"><use href="#n_apla2"/></g><g id="A-mnk"><use href="#n_mnk"/></g><g id="A-psk2" class="rg"><use href="#n_psk2"/></g>
<g id="A-creb1" class="k"><use href="#n_creb1"/></g><g id="A-elk1"><use href="#n_elk1"/></g><g id="A-sapla1"><use href="#n_sapla1"/></g><g id="A-cmyc"><use href="#n_cmyc"/></g><g id="A-srf"><use href="#n_srf"/></g><g id="A-cfos"><use href="#n_cfos"/></g><g id="A-ppp3c" class="rg"><use href="#n_ppp3c"/></g>
<g id="A-nfat2"><use href="#n_nfat2"/></g><g id="A-nfat4"><use href="#n_nfat4"/></g><g id="A-cjun"><use href="#n_cjun"/></g><g id="A-jund"><use href="#n_jund"/></g><g id="A-gst" class="k"><use href="#n_gst"/></g><g id="A-hsp72"><use href="#n_hsp72"/></g><g id="A-evil"><use href="#n_evil"/></g>
<g id="A-flna" class="r"><use href="#n_flna"/></g><g id="A-jip3"><use href="#n_jip3"/></g><g id="A-arrb" class="r"><use href="#n_arrb"/></g><g id="A-crk"><use href="#n_crk"/></g><g id="A-glk" class="k"><use href="#n_glk"/></g><g id="A-cnras2" class="k"><use href="#n_cnras2"/></g>
<g id="A-hgk"><use href="#n_hgk"/></g><g id="A-mekk1"><use href="#n_mekk1"/></g><g id="A-hpk1" class="r"><use href="#n_hpk1"/></g><g id="A-mlk3"><use href="#n_mlk3"/></g><g id="A-cdc42"><use href="#n_cdc42"/></g><g id="A-pak"><use href="#n_pak"/></g><g id="A-mekk23"><use href="#n_mekk23"/></g>
<g id="A-casp"><use href="#n_casp"/></g><g id="A-mst" class="r"><use href="#n_mst"/></g><g id="A-gck" class="k"><use href="#n_gck"/></g><g id="A-lzk" class="k"><use href="#n_lzk"/></g><g id="A-muk"><use href="#n_muk"/></g><g id="A-mltk" class="k"><use href="#n_mltk"/></g>
<g id="A-mkk4"><use href="#n_mkk4"/></g><g id="A-mkk7"><use href="#n_mkk7"/></g><g id="A-jip12"><use href="#n_jip12"/></g><g id="A-juk" class="rg"><use href="#n_juk"/></g><g id="A-pp2ca" class="r"><use href="#n_pp2ca"/></g><g id="A-akt"><use href="#n_akt"/></g><g id="A-ptp2"><use href="#n_ptp2"/></g><g id="A-mkp2"><use href="#n_mkp2"/></g>
<g id="A-atf2" class="k"><use href="#n_atf2"/></g><g id="A-elk1b"><use href="#n_elk1b"/></g><g id="A-p53"><use href="#n_p53"/></g>
<g id="A-tnf"><use href="#n_tnf"/></g><g id="A-tnfr"><use href="#n_tnfr"/></g><g id="A-il1"><use href="#n_il1"/></g><g id="A-il1r"><use href="#n_il1r"/></g><g id="A-fasl" class="r"><use href="#n_fasl"/></g><g id="A-fas"><use href="#n_fas"/></g><g id="A-tgfb"><use href="#n_tgfb"/></g><g id="A-tgfbr"><use href="#n_tgfbr"/></g><g id="A-cd14" class="k"><use href="#n_cd14"/></g>
<g id="A-traf2"><use href="#n_traf2"/></g><g id="A-daxx" class="r"><use href="#n_daxx"/></g><g id="A-tab1" class="rg"><use href="#n_tab1"/></g><g id="A-tab2" class="r"><use href="#n_tab2"/></g><g id="A-ecsit"><use href="#n_ecsit"/></g><g id="A-traf6" class="k"><use href="#n_traf6"/></g><g id="A-gadd45" class="rg"><use href="#n_gadd45"/></g>
<g id="A-ask2"><use href="#n_ask2"/></g><g id="A-ask1"><use href="#n_ask1"/></g><g id="A-tak1"><use href="#n_tak1"/></g><g id="A-p120gaf" class="k"><use href="#n_p120gaf"/></g><g id="A-mkk3"><use href="#n_mkk3"/></g><g id="A-mkk6" class="k"><use href="#n_mkk6"/></g><g id="A-p38" class="rg"><use href="#n_p38"/></g><g id="A-pp5" class="rg"><use href="#n_pp5"/></g>
<g id="A-sapla2"><use href="#n_sapla2"/></g><g id="A-gadd153"><use href="#n_gadd153"/></g><g id="A-max" class="k"><use href="#n_max"/></g><g id="A-mef2c"><use href="#n_mef2c"/></g><g id="A-prak" class="k"><use href="#n_prak"/></g><g id="A-mapkap"><use href="#n_mapkap"/></g><g id="A-msk"><use href="#n_msk"/></g><g id="A-cdc25b"><use href="#n_cdc25b"/></g>
<g id="A-hsp27"><use href="#n_hsp27"/></g><g id="A-creb2" class="k"><use href="#n_creb2"/></g><g id="A-nlk"><use href="#n_nlk"/></g><g id="A-mekk"><use href="#n_mekk"/></g><g id="A-tao"><use href="#n_tao"/></g><g id="A-mek5"><use href="#n_mek5"/></g><g id="A-erk5"><use href="#n_erk5"/></g><g id="A-nur77" class="rg"><use href="#n_nur77"/></g>
</g>
</g>

<g id="panelB" transform="matrix(1.01,0,0,1.01,1,516)">
<text class="L" x="4" y="25.5">B</text>
<use href="#base"/>
<g id="B-nodes" class="g">
<g id="B-ngf" class="k"><use href="#n_ngf"/></g><g id="B-bdnf" class="r"><use href="#n_bdnf"/></g><g id="B-nt34" class="k"><use href="#n_nt34"/></g><g id="B-egf"><use href="#n_egf"/></g><g id="B-fgf"><use href="#n_fgf"/></g><g id="B-pdgf"><use href="#n_pdgf"/></g>
<g id="B-trkab"><use href="#n_trkab"/></g><g id="B-egfr"><use href="#n_egfr"/></g><g id="B-fgfr" class="rg"><use href="#n_fgfr"/></g><g id="B-pdgfr"><use href="#n_pdgfr"/></g><g id="B-cacn" class="rg"><use href="#n_cacn"/></g>
<g id="B-grb2"><use href="#n_grb2"/></g><g id="B-sos"><use href="#n_sos"/></g><g id="B-ras"><use href="#n_ras"/></g><g id="B-g12"><use href="#n_g12"/></g><g id="B-gaplm"><use href="#n_gaplm"/></g><g id="B-nf1"><use href="#n_nf1"/></g><g id="B-p120gap"><use href="#n_p120gap"/></g>
<g id="B-rasgrf1" class="rg"><use href="#n_rasgrf1"/></g><g id="B-rasgrf2"><use href="#n_rasgrf2"/></g><g id="B-cnras1"><use href="#n_cnras1"/></g><g id="B-pkc" class="rg"><use href="#n_pkc"/></g><g id="B-pka" class="rg"><use href="#n_pka"/></g><g id="B-rap1"><use href="#n_rap1"/></g>
<g id="B-rafb"><use href="#n_rafb"/></g><g id="B-raf1"><use href="#n_raf1"/></g><g id="B-mos" class="k"><use href="#n_mos"/></g><g id="B-mek1" class="k"><use href="#n_mek1"/></g><g id="B-mek2"><use href="#n_mek2"/></g><g id="B-mp1"><use href="#n_mp1"/></g><g id="B-erk"><use href="#n_erk"/></g><g id="B-ptp1"><use href="#n_ptp1"/></g><g id="B-mkp1"><use href="#n_mkp1"/></g>
<g id="B-nik" class="k"><use href="#n_nik"/></g><g id="B-ikk" class="rg"><use href="#n_ikk"/></g><g id="B-nfkb" class="rg"><use href="#n_nfkb"/></g><g id="B-tau"><use href="#n_tau"/></g><g id="B-stmn1"><use href="#n_stmn1"/></g><g id="B-apla2"><use href="#n_apla2"/></g><g id="B-mnk"><use href="#n_mnk"/></g><g id="B-psk2"><use href="#n_psk2"/></g>
<g id="B-creb1" class="k"><use href="#n_creb1"/></g><g id="B-elk1"><use href="#n_elk1"/></g><g id="B-sapla1"><use href="#n_sapla1"/></g><g id="B-cmyc" class="r"><use href="#n_cmyc"/></g><g id="B-srf"><use href="#n_srf"/></g><g id="B-cfos"><use href="#n_cfos"/></g><g id="B-ppp3c" class="rg"><use href="#n_ppp3c"/></g>
<g id="B-nfat2"><use href="#n_nfat2"/></g><g id="B-nfat4"><use href="#n_nfat4"/></g><g id="B-cjun"><use href="#n_cjun"/></g><g id="B-jund"><use href="#n_jund"/></g><g id="B-gst" class="k"><use href="#n_gst"/></g><g id="B-hsp72"><use href="#n_hsp72"/></g><g id="B-evil"><use href="#n_evil"/></g>
<g id="B-flna" class="rg"><use href="#n_flna"/></g><g id="B-jip3"><use href="#n_jip3"/></g><g id="B-arrb"><use href="#n_arrb"/></g><g id="B-crk"><use href="#n_crk"/></g><g id="B-glk" class="k"><use href="#n_glk"/></g><g id="B-cnras2" class="k"><use href="#n_cnras2"/></g>
<g id="B-hgk"><use href="#n_hgk"/></g><g id="B-mekk1" class="r"><use href="#n_mekk1"/></g><g id="B-hpk1"><use href="#n_hpk1"/></g><g id="B-mlk3"><use href="#n_mlk3"/></g><g id="B-cdc42"><use href="#n_cdc42"/></g><g id="B-pak"><use href="#n_pak"/></g><g id="B-mekk23"><use href="#n_mekk23"/></g>
<g id="B-casp" class="r"><use href="#n_casp"/></g><g id="B-mst"><use href="#n_mst"/></g><g id="B-gck" class="k"><use href="#n_gck"/></g><g id="B-lzk" class="k"><use href="#n_lzk"/></g><g id="B-muk"><use href="#n_muk"/></g><g id="B-mltk" class="k"><use href="#n_mltk"/></g>
<g id="B-mkk4"><use href="#n_mkk4"/></g><g id="B-mkk7"><use href="#n_mkk7"/></g><g id="B-jip12"><use href="#n_jip12"/></g><g id="B-juk" class="rg"><use href="#n_juk"/></g><g id="B-pp2ca" class="r"><use href="#n_pp2ca"/></g><g id="B-akt"><use href="#n_akt"/></g><g id="B-ptp2"><use href="#n_ptp2"/></g><g id="B-mkp2"><use href="#n_mkp2"/></g>
<g id="B-atf2" class="k"><use href="#n_atf2"/></g><g id="B-elk1b"><use href="#n_elk1b"/></g><g id="B-p53"><use href="#n_p53"/></g>
<g id="B-tnf"><use href="#n_tnf"/></g><g id="B-tnfr"><use href="#n_tnfr"/></g><g id="B-il1"><use href="#n_il1"/></g><g id="B-il1r"><use href="#n_il1r"/></g><g id="B-fasl" class="r"><use href="#n_fasl"/></g><g id="B-fas"><use href="#n_fas"/></g><g id="B-tgfb"><use href="#n_tgfb"/></g><g id="B-tgfbr"><use href="#n_tgfbr"/></g><g id="B-cd14" class="k"><use href="#n_cd14"/></g>
<g id="B-traf2" class="r"><use href="#n_traf2"/></g><g id="B-daxx"><use href="#n_daxx"/></g><g id="B-tab1"><use href="#n_tab1"/></g><g id="B-tab2"><use href="#n_tab2"/></g><g id="B-ecsit"><use href="#n_ecsit"/></g><g id="B-traf6" class="k"><use href="#n_traf6"/></g><g id="B-gadd45" class="rg"><use href="#n_gadd45"/></g>
<g id="B-ask2"><use href="#n_ask2"/></g><g id="B-ask1"><use href="#n_ask1"/></g><g id="B-tak1"><use href="#n_tak1"/></g><g id="B-p120gaf"><use href="#n_p120gaf"/></g><g id="B-mkk3"><use href="#n_mkk3"/></g><g id="B-mkk6" class="k"><use href="#n_mkk6"/></g><g id="B-p38" class="rg"><use href="#n_p38"/></g><g id="B-pp5" class="r"><use href="#n_pp5"/></g>
<g id="B-sapla2"><use href="#n_sapla2"/></g><g id="B-gadd153"><use href="#n_gadd153"/></g><g id="B-max" class="k"><use href="#n_max"/></g><g id="B-mef2c"><use href="#n_mef2c"/></g><g id="B-prak" class="k"><use href="#n_prak"/></g><g id="B-mapkap"><use href="#n_mapkap"/></g><g id="B-msk"><use href="#n_msk"/></g><g id="B-cdc25b"><use href="#n_cdc25b"/></g>
<g id="B-hsp27"><use href="#n_hsp27"/></g><g id="B-creb2" class="k"><use href="#n_creb2"/></g><g id="B-nlk"><use href="#n_nlk"/></g><g id="B-mekk" class="k"><use href="#n_mekk"/></g><g id="B-tao"><use href="#n_tao"/></g><g id="B-mek5"><use href="#n_mek5"/></g><g id="B-erk5"><use href="#n_erk5"/></g><g id="B-nur77" class="rg"><use href="#n_nur77"/></g>
</g>
</g>

<g id="panelC" transform="matrix(1.01,0,0,1,1,1037)">
<text class="L" x="4" y="25.5">C</text>
<use href="#base"/>
<g id="C-nodes" class="g">
<g id="C-ngf" class="k"><use href="#n_ngf"/></g><g id="C-bdnf"><use href="#n_bdnf"/></g><g id="C-nt34" class="k"><use href="#n_nt34"/></g><g id="C-egf"><use href="#n_egf"/></g><g id="C-fgf"><use href="#n_fgf"/></g><g id="C-pdgf"><use href="#n_pdgf"/></g>
<g id="C-trkab"><use href="#n_trkab"/></g><g id="C-egfr"><use href="#n_egfr"/></g><g id="C-fgfr"><use href="#n_fgfr"/></g><g id="C-pdgfr"><use href="#n_pdgfr"/></g><g id="C-cacn" class="rg"><use href="#n_cacn"/></g>
<g id="C-grb2"><use href="#n_grb2"/></g><g id="C-sos"><use href="#n_sos"/></g><g id="C-ras"><use href="#n_ras"/></g><g id="C-g12"><use href="#n_g12"/></g><g id="C-gaplm"><use href="#n_gaplm"/></g><g id="C-nf1"><use href="#n_nf1"/></g><g id="C-p120gap"><use href="#n_p120gap"/></g>
<g id="C-rasgrf1"><use href="#n_rasgrf1"/></g><g id="C-rasgrf2"><use href="#n_rasgrf2"/></g><g id="C-cnras1"><use href="#n_cnras1"/></g><g id="C-pkc"><use href="#n_pkc"/></g><g id="C-pka"><use href="#n_pka"/></g><g id="C-rap1"><use href="#n_rap1"/></g>
<g id="C-rafb"><use href="#n_rafb"/></g><g id="C-raf1"><use href="#n_raf1"/></g><g id="C-mos" class="k"><use href="#n_mos"/></g><g id="C-mek1" class="k"><use href="#n_mek1"/></g><g id="C-mek2"><use href="#n_mek2"/></g><g id="C-mp1"><use href="#n_mp1"/></g><g id="C-erk"><use href="#n_erk"/></g><g id="C-ptp1"><use href="#n_ptp1"/></g><g id="C-mkp1"><use href="#n_mkp1"/></g>
<g id="C-nik" class="k"><use href="#n_nik"/></g><g id="C-ikk"><use href="#n_ikk"/></g><g id="C-nfkb"><use href="#n_nfkb"/></g><g id="C-tau"><use href="#n_tau"/></g><g id="C-stmn1"><use href="#n_stmn1"/></g><g id="C-apla2"><use href="#n_apla2"/></g><g id="C-mnk"><use href="#n_mnk"/></g><g id="C-psk2"><use href="#n_psk2"/></g>
<g id="C-creb1" class="k"><use href="#n_creb1"/></g><g id="C-elk1"><use href="#n_elk1"/></g><g id="C-sapla1"><use href="#n_sapla1"/></g><g id="C-cmyc"><use href="#n_cmyc"/></g><g id="C-srf"><use href="#n_srf"/></g><g id="C-cfos"><use href="#n_cfos"/></g><g id="C-ppp3c" class="rg"><use href="#n_ppp3c"/></g>
<g id="C-nfat2"><use href="#n_nfat2"/></g><g id="C-nfat4"><use href="#n_nfat4"/></g><g id="C-cjun"><use href="#n_cjun"/></g><g id="C-jund"><use href="#n_jund"/></g><g id="C-gst" class="k"><use href="#n_gst"/></g><g id="C-hsp72"><use href="#n_hsp72"/></g><g id="C-evil"><use href="#n_evil"/></g>
<g id="C-flna"><use href="#n_flna"/></g><g id="C-jip3"><use href="#n_jip3"/></g><g id="C-arrb" class="r"><use href="#n_arrb"/></g><g id="C-crk"><use href="#n_crk"/></g><g id="C-glk" class="k"><use href="#n_glk"/></g><g id="C-cnras2"><use href="#n_cnras2"/></g>
<g id="C-hgk"><use href="#n_hgk"/></g><g id="C-mekk1"><use href="#n_mekk1"/></g><g id="C-hpk1"><use href="#n_hpk1"/></g><g id="C-mlk3"><use href="#n_mlk3"/></g><g id="C-cdc42" class="rg"><use href="#n_cdc42"/></g><g id="C-pak"><use href="#n_pak"/></g><g id="C-mekk23"><use href="#n_mekk23"/></g>
<g id="C-casp"><use href="#n_casp"/></g><g id="C-mst"><use href="#n_mst"/></g><g id="C-gck" class="k"><use href="#n_gck"/></g><g id="C-lzk" class="k"><use href="#n_lzk"/></g><g id="C-muk"><use href="#n_muk"/></g><g id="C-mltk" class="k"><use href="#n_mltk"/></g>
<g id="C-mkk4"><use href="#n_mkk4"/></g><g id="C-mkk7"><use href="#n_mkk7"/></g><g id="C-jip12"><use href="#n_jip12"/></g><g id="C-juk"><use href="#n_juk"/></g><g id="C-pp2ca"><use href="#n_pp2ca"/></g><g id="C-akt" class="rg"><use href="#n_akt"/></g><g id="C-ptp2"><use href="#n_ptp2"/></g><g id="C-mkp2"><use href="#n_mkp2"/></g>
<g id="C-atf2" class="k"><use href="#n_atf2"/></g><g id="C-elk1b"><use href="#n_elk1b"/></g><g id="C-p53"><use href="#n_p53"/></g>
<g id="C-tnf"><use href="#n_tnf"/></g><g id="C-tnfr"><use href="#n_tnfr"/></g><g id="C-il1"><use href="#n_il1"/></g><g id="C-il1r"><use href="#n_il1r"/></g><g id="C-fasl"><use href="#n_fasl"/></g><g id="C-fas"><use href="#n_fas"/></g><g id="C-tgfb"><use href="#n_tgfb"/></g><g id="C-tgfbr"><use href="#n_tgfbr"/></g><g id="C-cd14" class="k"><use href="#n_cd14"/></g>
<g id="C-traf2"><use href="#n_traf2"/></g><g id="C-daxx"><use href="#n_daxx"/></g><g id="C-tab1" class="rg"><use href="#n_tab1"/></g><g id="C-tab2"><use href="#n_tab2"/></g><g id="C-ecsit"><use href="#n_ecsit"/></g><g id="C-traf6" class="k"><use href="#n_traf6"/></g><g id="C-gadd45"><use href="#n_gadd45"/></g>
<g id="C-ask2"><use href="#n_ask2"/></g><g id="C-ask1"><use href="#n_ask1"/></g><g id="C-tak1"><use href="#n_tak1"/></g><g id="C-p120gaf"><use href="#n_p120gaf"/></g><g id="C-mkk3"><use href="#n_mkk3"/></g><g id="C-mkk6" class="k"><use href="#n_mkk6"/></g><g id="C-p38"><use href="#n_p38"/></g><g id="C-pp5"><use href="#n_pp5"/></g>
<g id="C-sapla2"><use href="#n_sapla2"/></g><g id="C-gadd153"><use href="#n_gadd153"/></g><g id="C-max" class="k"><use href="#n_max"/></g><g id="C-mef2c"><use href="#n_mef2c"/></g><g id="C-prak" class="k"><use href="#n_prak"/></g><g id="C-mapkap"><use href="#n_mapkap"/></g><g id="C-msk"><use href="#n_msk"/></g><g id="C-cdc25b"><use href="#n_cdc25b"/></g>
<g id="C-hsp27"><use href="#n_hsp27"/></g><g id="C-creb2" class="k"><use href="#n_creb2"/></g><g id="C-nlk"><use href="#n_nlk"/></g><g id="C-mekk" class="k"><use href="#n_mekk"/></g><g id="C-tao"><use href="#n_tao"/></g><g id="C-mek5"><use href="#n_mek5"/></g><g id="C-erk5"><use href="#n_erk5"/></g><g id="C-nur77"><use href="#n_nur77"/></g>
</g>
</g>
</svg>
